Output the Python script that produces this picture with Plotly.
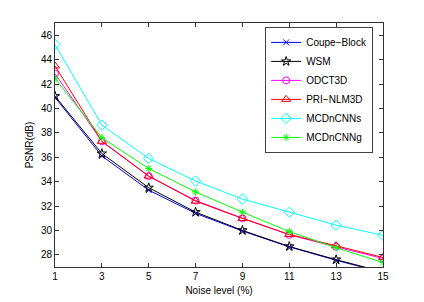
import plotly.graph_objects as go

noise = [1, 3, 5, 7, 9, 11, 13, 15]
coupe_block = [40.9, 36.1, 33.3, 31.4, 29.95, 28.65, 27.55, 26.55]
wsm = [41.0, 36.3, 33.5, 31.5, 30.0, 28.68, 27.6, 26.6]
odct3d = [42.85, 37.3, 34.45, 32.45, 31.0, 29.64, 28.65, 27.7]
pri_nlm3d = [43.48, 37.3, 34.45, 32.4, 30.98, 29.67, 28.74, 27.78]
mcdncnns = [45.24, 38.63, 35.9, 34.05, 32.57, 31.48, 30.43, 29.6]
mcdncnng = [42.47, 37.6, 35.07, 33.15, 31.5, 29.9, 28.58, 27.37]

series = [
    ("Coupe−Block", coupe_block, "#0000ff", "x-thin-open", 6),
    ("WSM", wsm, "#000000", "star-open", 7),
    ("ODCT3D", odct3d, "#ff00ff", "circle-open", 7),
    ("PRI−NLM3D", pri_nlm3d, "#ff0000", "triangle-up-open", 8),
    ("MCDnCNNs", mcdncnns, "#00ffff", "diamond-open", 8),
    ("MCDnCNNg", mcdncnng, "#00ff00", "asterisk-open", 6),
]

x_ticks = [1, 3, 5, 7, 9, 11, 13, 15]
y_ticks = [28, 30, 32, 34, 36, 38, 40, 42, 44, 46]

fig = go.Figure()
for name, vals, color, sym, sz in series:
    fig.add_trace(go.Scatter(
        x=noise, y=vals, name=name, mode="lines+markers",
        line=dict(color=color, width=1),
        marker=dict(symbol=sym, size=sz, color=color, line=dict(color=color, width=1)),
    ))

axis_common = dict(
    showline=True, linecolor="#333333", linewidth=1, mirror="ticks",
    ticks="inside", ticklen=4, tickcolor="#333333", showgrid=False, zeroline=False,
    automargin=False,
    tickfont=dict(family="Liberation Sans, Arial", size=10, color="black"),
)

fig.update_layout(
    width=424, height=302,
    margin=dict(l=55, r=41, t=23, b=35),
    paper_bgcolor="white", plot_bgcolor="white",
    font=dict(family="Liberation Sans, Arial", size=10, color="black"),
    xaxis=dict(range=[1, 15], tickvals=x_ticks,
               title=dict(text="Noise level (%)", standoff=5, font=dict(size=10)), **axis_common),
    yaxis=dict(range=[27, 47], tickvals=y_ticks,
               title=dict(text="PSNR(dB)", standoff=5, font=dict(size=10)), **axis_common),
    legend=dict(x=0.97, xanchor="right", y=0.984, yanchor="top",
                bordercolor="#404040", borderwidth=1, bgcolor="white",
                itemwidth=30, font=dict(size=10), tracegroupgap=0),
    showlegend=True,
)

fig.write_html(
    "out.html",
    config={"displayModeBar": False},
    post_script="document.body.style.margin='0';document.body.style.overflow='hidden';",
)
